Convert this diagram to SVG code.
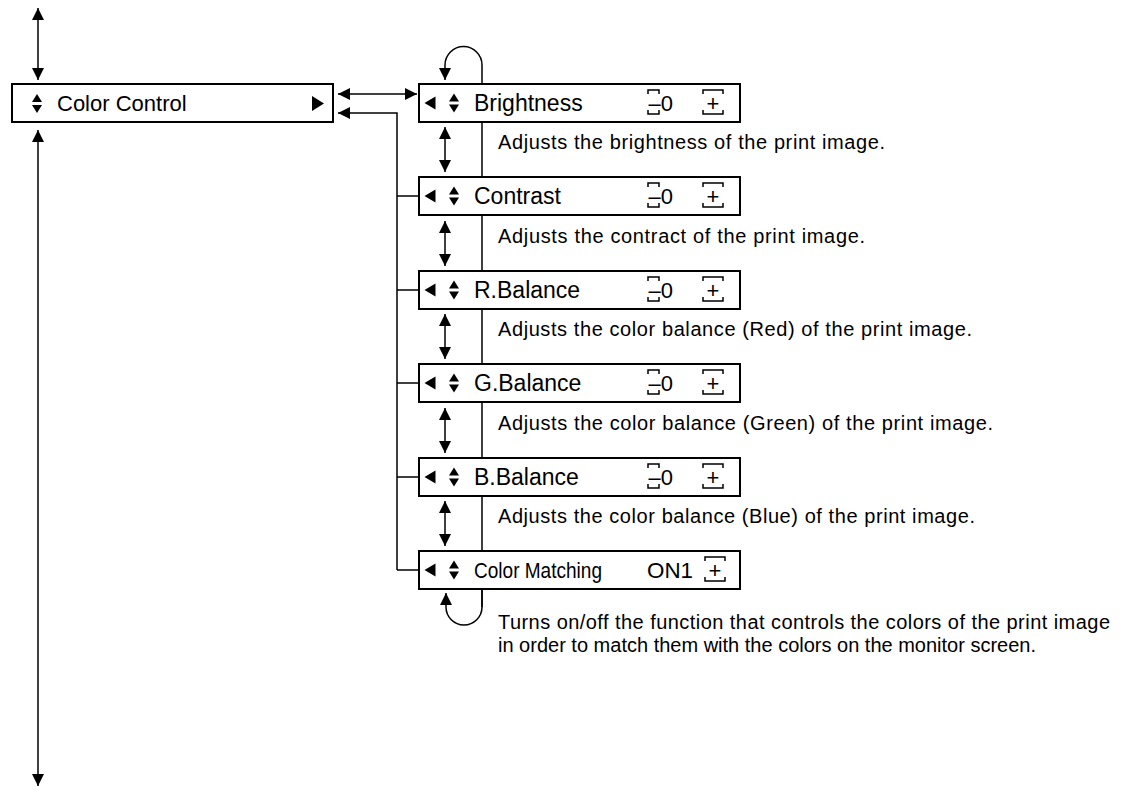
<svg xmlns="http://www.w3.org/2000/svg" width="1125" height="790" viewBox="0 0 1125 790">
<style>
.box{fill:#fff;stroke:#000;stroke-width:2}
.ln{fill:none;stroke:#000;stroke-width:1.5}
.t{font-family:"Liberation Sans",Arial,sans-serif;font-size:22px;fill:#000}
.s{font-family:"Liberation Sans",Arial,sans-serif;font-size:23px;fill:#000}
.d{font-family:"Liberation Sans",Arial,sans-serif;font-size:20px;fill:#000}
.ic{fill:#000}
</style>
<defs>
<marker id="ah" markerUnits="userSpaceOnUse" markerWidth="12" markerHeight="12" viewBox="0 0 10 10" refX="10" refY="5" orient="auto-start-reverse">
<path d="M0,0 L10,5 L0,10 z" fill="#000"/>
</marker>
<g id="updown"><path d="M-5,8 L0,0 L5,8 z M-5,11 L0,19 L5,11 z"/></g>
<g id="left"><path d="M5.5,-6.5 L-5.5,0 L5.5,6.5 z"/></g>
<g id="brk1"><path d="M0,4 L0,0 L11,0 L11,4 M0,20 L0,24 L11,24 L11,20" fill="none" stroke="#000" stroke-width="1.5"/></g>
<g id="brk2"><path d="M0,4 L0,0 L20,0 L20,4 M0,20 L0,24 L20,24 L20,20" fill="none" stroke="#000" stroke-width="1.5"/></g>
</defs>

<g id="connectors">
<line class="ln" x1="38" y1="80" x2="38" y2="8" marker-start="url(#ah)" marker-end="url(#ah)"/>
<line class="ln" x1="38" y1="130" x2="38" y2="786" marker-start="url(#ah)" marker-end="url(#ah)"/>
<line class="ln" x1="338" y1="94" x2="417" y2="94" marker-start="url(#ah)" marker-end="url(#ah)"/>
<path class="ln" d="M397,570 L397,113 L338,113" marker-end="url(#ah)"/>
<path class="ln" d="M397,196 H419 M397,290 H419 M397,383 H419 M397,477 H419 M397,570 H419"/>
<path class="ln" d="M482,607 L482,65 A18.5,18.5 0 0 0 445,65 L445,80" marker-end="url(#ah)"/>
<path class="ln" d="M482,589 L482,607 A18,18 0 0 1 446,607 L446,593" marker-end="url(#ah)"/>
<line class="ln" x1="445" y1="127" x2="445" y2="172" marker-start="url(#ah)" marker-end="url(#ah)"/>
<line class="ln" x1="445" y1="221" x2="445" y2="266" marker-start="url(#ah)" marker-end="url(#ah)"/>
<line class="ln" x1="445" y1="314" x2="445" y2="359" marker-start="url(#ah)" marker-end="url(#ah)"/>
<line class="ln" x1="445" y1="408" x2="445" y2="453" marker-start="url(#ah)" marker-end="url(#ah)"/>
<line class="ln" x1="445" y1="501" x2="445" y2="546" marker-start="url(#ah)" marker-end="url(#ah)"/>
</g>

<g id="color-control">
<rect class="box" x="12" y="84" width="321" height="38"/>
<use href="#updown" x="37" y="94" class="ic"/>
<text class="t" x="57" y="111">Color Control</text>
<path class="ic" d="M312,96 L324,103.5 L312,111 z"/>
</g>

<g id="brightness">
<rect class="box" x="419" y="84" width="321" height="38"/>
<use href="#left" x="430" y="103"/>
<use href="#updown" x="454" y="93.5"/>
<text class="s" x="474" y="111">Brightness</text>
<use href="#brk1" x="648" y="90"/>
<text class="t" x="673" y="111" text-anchor="end">–0</text>
<use href="#brk2" x="703" y="90"/>
<text class="t" x="713" y="111" text-anchor="middle">+</text>
<text class="d" x="498" y="149" textLength="387" lengthAdjust="spacing">Adjusts the brightness of the print image.</text>
</g>

<g id="contrast">
<rect class="box" x="419" y="177" width="321" height="38"/>
<use href="#left" x="430" y="196"/>
<use href="#updown" x="454" y="186.5"/>
<text class="s" x="474" y="204">Contrast</text>
<use href="#brk1" x="648" y="183"/>
<text class="t" x="673" y="204" text-anchor="end">–0</text>
<use href="#brk2" x="703" y="183"/>
<text class="t" x="713" y="204" text-anchor="middle">+</text>
<text class="d" x="498" y="243" textLength="367" lengthAdjust="spacing">Adjusts the contract of the print image.</text>
</g>

<g id="r-balance">
<rect class="box" x="419" y="271" width="321" height="38"/>
<use href="#left" x="430" y="290"/>
<use href="#updown" x="454" y="280.5"/>
<text class="s" x="474" y="298">R.Balance</text>
<use href="#brk1" x="648" y="277"/>
<text class="t" x="673" y="298" text-anchor="end">–0</text>
<use href="#brk2" x="703" y="277"/>
<text class="t" x="713" y="298" text-anchor="middle">+</text>
<text class="d" x="498" y="336" textLength="474" lengthAdjust="spacing">Adjusts the color balance (Red) of the print image.</text>
</g>

<g id="g-balance">
<rect class="box" x="419" y="364" width="321" height="38"/>
<use href="#left" x="430" y="383"/>
<use href="#updown" x="454" y="373.5"/>
<text class="s" x="474" y="391">G.Balance</text>
<use href="#brk1" x="648" y="370"/>
<text class="t" x="673" y="391" text-anchor="end">–0</text>
<use href="#brk2" x="703" y="370"/>
<text class="t" x="713" y="391" text-anchor="middle">+</text>
<text class="d" x="498" y="430" textLength="495" lengthAdjust="spacing">Adjusts the color balance (Green) of the print image.</text>
</g>

<g id="b-balance">
<rect class="box" x="419" y="458" width="321" height="38"/>
<use href="#left" x="430" y="477"/>
<use href="#updown" x="454" y="467.5"/>
<text class="s" x="474" y="485">B.Balance</text>
<use href="#brk1" x="648" y="464"/>
<text class="t" x="673" y="485" text-anchor="end">–0</text>
<use href="#brk2" x="703" y="464"/>
<text class="t" x="713" y="485" text-anchor="middle">+</text>
<text class="d" x="498" y="523" textLength="477" lengthAdjust="spacing">Adjusts the color balance (Blue) of the print image.</text>
</g>

<g id="color-matching">
<rect class="box" x="419" y="551" width="321" height="38"/>
<use href="#left" x="430" y="570"/>
<use href="#updown" x="454" y="560.5"/>
<text class="t" x="474" y="578" textLength="128" lengthAdjust="spacingAndGlyphs">Color Matching</text>
<text class="t" x="647" y="578" textLength="46" lengthAdjust="spacingAndGlyphs">ON1</text>
<use href="#brk2" x="705" y="557"/>
<text class="t" x="715" y="578" text-anchor="middle">+</text>
<text class="d" x="498" y="629" textLength="612" lengthAdjust="spacing">Turns on/off the function that controls the colors of the print image</text>
<text class="d" x="498" y="652">in order to match them with the colors on the monitor screen.</text>
</g>
</svg>
